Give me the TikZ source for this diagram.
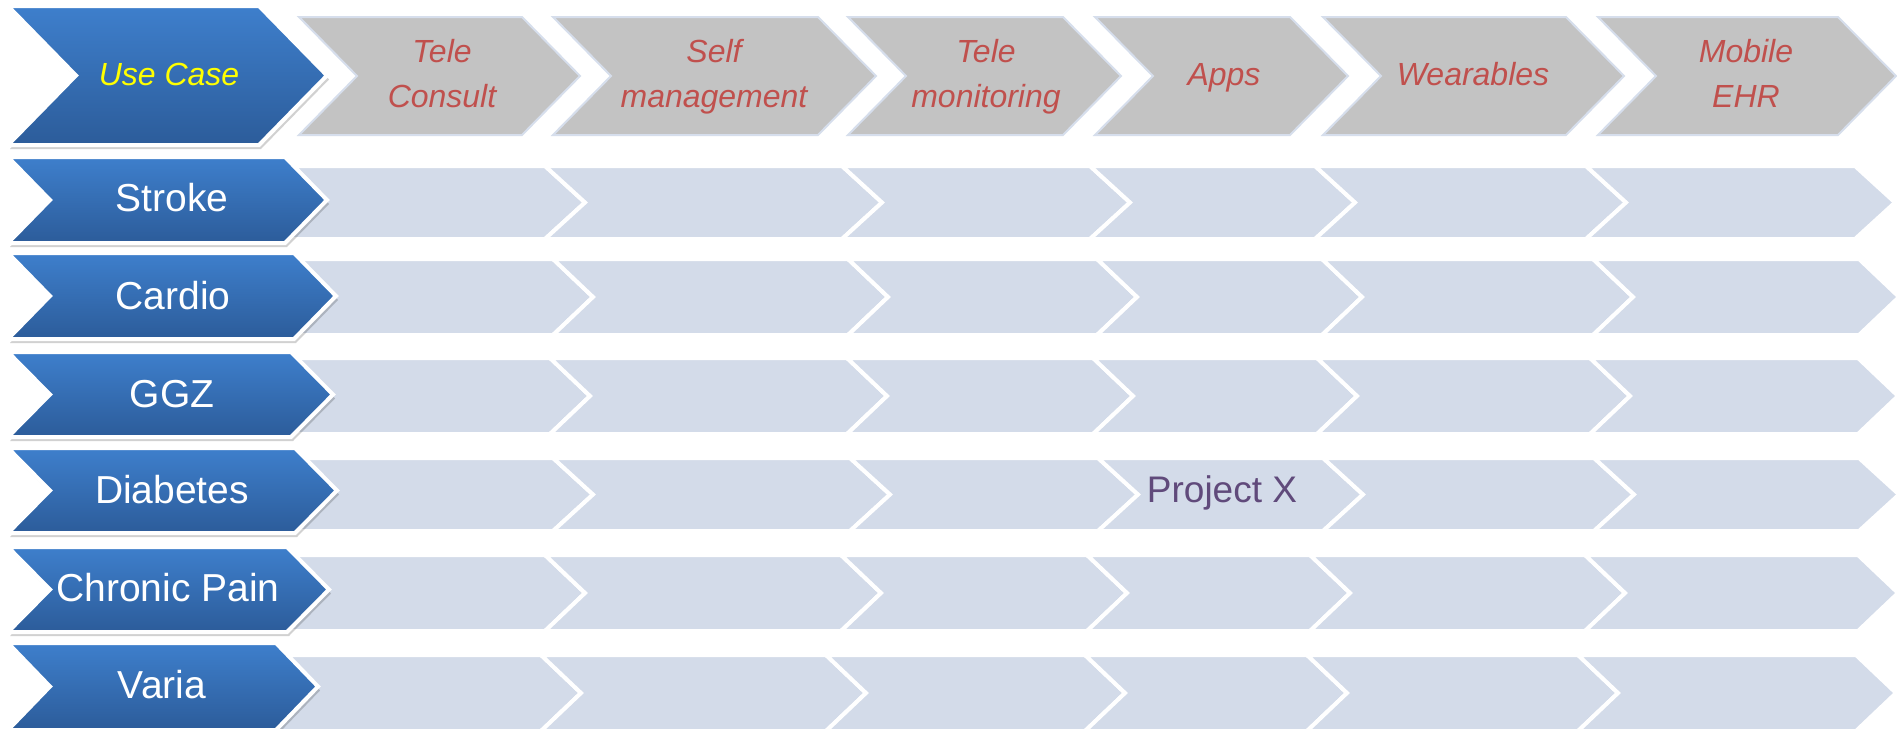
\documentclass[tikz,border=0pt]{standalone}
\usepackage{fontspec}
\setmainfont{Liberation Sans}
\usetikzlibrary{shadows}
\definecolor{blueTop}{RGB}{62,127,204}
\definecolor{blueBot}{RGB}{44,92,154}
\definecolor{grayFill}{RGB}{195,195,195}
\definecolor{grayEdge}{RGB}{214,222,236}
\definecolor{lightFill}{RGB}{211,219,233}
\definecolor{hdrRed}{RGB}{192,80,77}
\definecolor{projPurple}{RGB}{96,74,123}
\definecolor{useYellow}{RGB}{255,255,0}
\tikzset{
  bluechev/.style={top color=blueTop, bottom color=blueBot, draw=white, line width=4pt, line join=miter,
     drop shadow={shadow xshift=2pt, shadow yshift=-4pt, opacity=0.18, fill=black}},
  graychev/.style={fill=grayFill, draw=grayEdge, line width=2pt, line join=miter},
  lightchev/.style={fill=lightFill, draw=white, line width=4pt, line join=miter},
  hdrtext/.style={font=\fontsize{32}{45}\selectfont\itshape, text=hdrRed, align=center, inner sep=0pt, anchor=center},
  rowtext/.style={font=\fontsize{39}{45}\selectfont, text=white, inner sep=0pt, anchor=base},
}
% chevron: style, x-left(top), x-right(top), y-top, y-bottom, depth
\newcommand\mychev[6]{%
  \path[#1] (#2,#4) -- (#3,#4) -- ({#3+#6},{(#4+#5)/2}) -- (#3,#5) -- (#2,#5) -- ({#2+#6},{(#4+#5)/2}) -- cycle;}
\newcommand\lightrow[9]{%
  \mychev{lightchev}{#3}{#4}{#1}{#2}{40}%
  \mychev{lightchev}{#4}{#5}{#1}{#2}{40}%
  \mychev{lightchev}{#5}{#6}{#1}{#2}{40}%
  \mychev{lightchev}{#6}{#7}{#1}{#2}{40}%
  \mychev{lightchev}{#7}{#8}{#1}{#2}{40}%
  \mychev{lightchev}{#8}{#9}{#1}{#2}{40}}
\newcommand\hdrstrut{\vphantom{lg}}
\begin{document}
\begin{tikzpicture}[x=1pt,y=-1pt]
\useasboundingbox[fill=white] (0,0) rectangle (1897,728);
% header gray chevrons
\mychev{graychev}{299}{522}{17}{135}{58}
\mychev{graychev}{553}{818}{17}{135}{58}
\mychev{graychev}{848}{1063}{17}{135}{58}
\mychev{graychev}{1095}{1290}{17}{135}{58}
\mychev{graychev}{1323}{1566}{17}{135}{58}
\mychev{graychev}{1598}{1838}{17}{135}{58}
% body light chevrons
\lightrow{166}{239}{262}{545}{842}{1090}{1315}{1586}{1855}
\lightrow{259}{335}{262}{553}{848}{1097}{1322}{1593}{1859}
\lightrow{358}{434}{262}{550}{847}{1093}{1317}{1590}{1858}
\lightrow{458}{531}{262}{553}{850}{1098}{1323}{1594}{1859}
\lightrow{555}{631}{262}{545}{841}{1087}{1310}{1585}{1858}
\lightrow{655}{731}{262}{541}{826}{1085}{1307}{1578}{1856}
% blue chevrons
\mychev{bluechev}{8}{259}{6}{145}{68}
\mychev{bluechev}{8}{285}{157}{243}{42}
\mychev{bluechev}{8}{294}{253}{339}{42}
\mychev{bluechev}{8}{291}{352}{437}{42}
\mychev{bluechev}{8}{295}{448}{533}{42}
\mychev{bluechev}{8}{287}{547}{632}{42}
\mychev{bluechev}{8}{276}{643}{730}{42}
% header texts
\node[hdrtext, text=useYellow] (usecase) at (169,77) {\hdrstrut Use Case};
\node[hdrtext] (teleconsult) at (442,77) {\hdrstrut Tele\\\hdrstrut Consult};
\node[hdrtext] (selfman) at (714,77) {\hdrstrut Self\\\hdrstrut management};
\node[hdrtext] (telemon) at (986,77) {\hdrstrut Tele\\\hdrstrut monitoring};
\node[hdrtext] (apps) at (1224,77) {\hdrstrut Apps};
\node[hdrtext] (wearables) at (1473,77) {\hdrstrut Wearables};
\node[hdrtext] (mobileehr) at (1746,77) {\hdrstrut Mobile\\\hdrstrut EHR};
% row labels
\node[rowtext] (stroke) at (172,211) {Stroke};
\node[rowtext] (cardio) at (173,309) {Cardio};
\node[rowtext] (ggz) at (172,407) {GGZ};
\node[rowtext] (diabetes) at (172,503) {Diabetes};
\node[rowtext] (chronic) at (168,601) {Chronic Pain};
\node[rowtext] (varia) at (162,698) {Varia};
% project
\node[rowtext, font=\fontsize{37}{45}\selectfont, text=projPurple] (projectx) at (1222,502) {Project X};
\end{tikzpicture}
\end{document}
